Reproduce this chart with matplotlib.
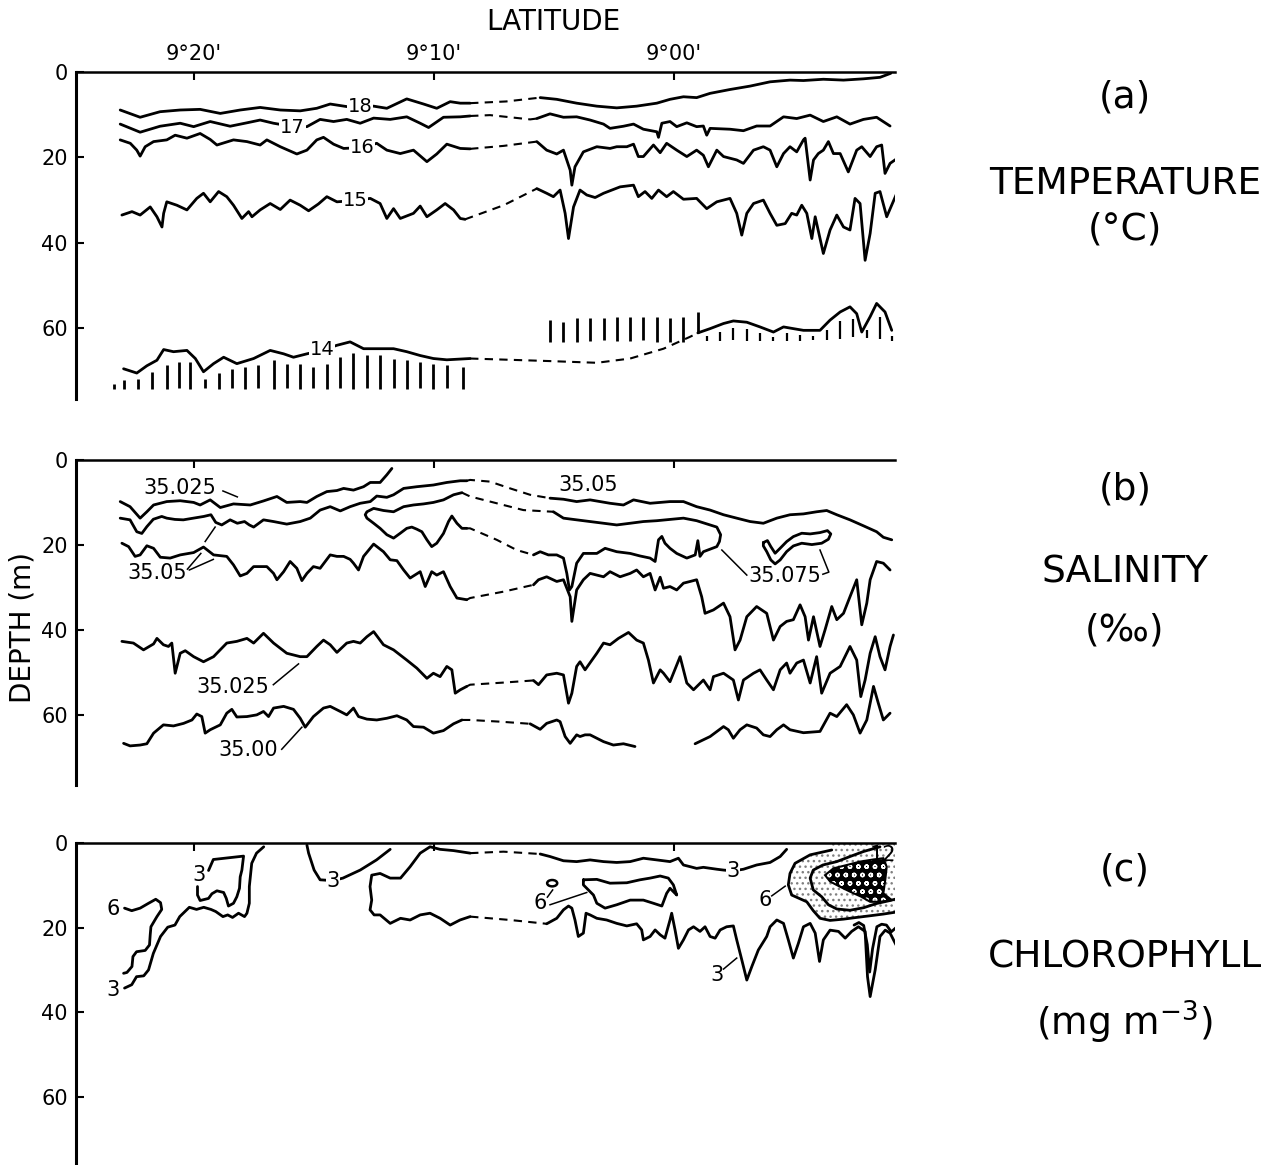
import matplotlib.pyplot as plt
from matplotlib.patches import Polygon, Ellipse

plt.rcParams['font.family'] = ['DejaVu Sans']
plt.rcParams['hatch.linewidth'] = 1.0

# x = latitude, minutes north of 9 deg 00' (negative = south), y = depth in m
LAT_TICKS = [20, 10, 0]
LAT_LABELS = ["9°20'", "9°10'", "9°00'"]
DEPTH_TICKS = [0, 20, 40, 60]

# ---------------- (a) temperature ----------------
t18_lat = [23.08, 22.25, 21.42, 20.58, 19.75, 18.91, 18.08, 17.25, 16.41, 15.58, 14.89, 14.33, 13.64, 13.08, 12.52, 11.97, 11.14, 10.44, 9.89, 9.33, 8.91, 8.5]
t18_dep = [8.9, 10.6, 9.3, 8.9, 8.75, 9.7, 8.9, 8.3, 8.9, 9.1, 8.5, 7.5, 8.1, 8.0, 8.0, 8.5, 6.3, 7.5, 8.5, 6.95, 7.3, 7.3]
t18_gap_lat = [8.5, 7.0, 5.58]
t18_gap_dep = [7.3, 6.9, 6.0]
t18r_lat = [5.58, 4.89, 4.06, 3.22, 2.39, 1.56, 0.72, 0.17, -0.39, -0.94, -1.5, -2.33, -3.17, -4.0, -4.83, -5.39, -6.22, -7.06, -7.89, -8.58, -9.03]
t18r_dep = [6.0, 6.4, 7.3, 8.0, 8.4, 8.0, 7.3, 6.4, 5.8, 6.0, 5.0, 4.1, 3.3, 2.3, 1.9, 2.0, 1.7, 1.9, 1.6, 1.25, 0.3]

t17_lat = [23.08, 22.25, 21.42, 20.58, 20.02, 19.33, 18.5, 17.8, 17.25, 16.69, 15.86, 15.3, 14.75, 14.19, 13.64, 13.08, 12.52, 11.83, 11.14, 10.58, 10.23, 9.61, 8.91, 8.5]
t17_dep = [12.2, 14.1, 12.7, 12.0, 12.8, 11.6, 12.7, 11.9, 11.25, 12.0, 12.8, 12.8, 11.1, 11.6, 11.1, 12.0, 10.8, 11.1, 10.5, 12.0, 13.0, 10.6, 10.5, 10.3]
t17_gap_lat = [8.5, 7.67, 6.83, 6.0, 5.72]
t17_gap_dep = [10.3, 10.1, 10.6, 11.1, 10.9]
t17r_lat = [5.72, 5.17, 4.61, 4.06, 3.5, 2.94, 2.67, 2.11, 1.69, 1.28, 0.72, 0.65, 0.51, 0.17, -0.11, -0.53, -0.94, -1.22, -1.36, -1.5, -2.33, -2.89, -3.44, -4.0, -4.56, -5.11, -5.67, -6.22, -6.78, -7.33, -7.89, -8.44, -9.0]
t17r_dep = [10.9, 9.8, 10.6, 10.5, 11.25, 12.2, 13.2, 12.7, 12.2, 13.4, 14.0, 15.3, 12.0, 11.6, 12.8, 11.9, 12.8, 12.65, 14.8, 13.2, 13.4, 13.75, 12.65, 12.65, 10.5, 10.9, 10.1, 11.6, 10.5, 12.2, 11.1, 10.6, 12.65]

t16_lat = [23.08, 22.66, 22.39, 22.25, 22.04, 21.69, 21.14, 20.79, 20.3, 19.75, 19.33, 19.05, 18.36, 17.8, 17.25, 16.97, 16.41, 15.72, 15.3, 14.89, 14.61, 14.19, 13.77, 13.01, 12.39, 11.97, 11.41, 10.86, 10.3, 9.89, 9.47, 8.91, 8.5]
t16_dep = [15.9, 16.7, 18.3, 19.7, 17.5, 16.3, 15.9, 14.8, 15.5, 14.4, 15.8, 17.1, 15.9, 16.3, 17.1, 15.9, 17.5, 19.2, 18.3, 15.9, 15.3, 16.9, 17.9, 17.7, 16.7, 18.3, 19.1, 18.3, 21.0, 19.2, 16.9, 17.9, 18.0]
t16_gap_lat = [8.5, 7.1, 5.72]
t16_gap_dep = [18.0, 17.3, 16.3]
t16r_lat = [5.72, 5.31, 4.89, 4.61, 4.33, 4.26, 4.13, 3.78, 3.22, 2.67, 2.39, 1.97, 1.69, 1.49, 1.28, 0.86, 0.58, 0.31, -0.11, -0.53, -0.94, -1.22, -1.43, -1.78, -2.06, -2.61, -2.89, -3.31, -3.72, -4.0, -4.28, -4.56, -4.83, -5.11, -5.39, -5.46, -5.67, -5.81, -6.01, -6.22, -6.43, -6.64, -6.92, -7.26, -7.61, -7.82, -8.17, -8.44, -8.65, -8.79, -9.0, -9.28]
t16r_dep = [16.3, 18.3, 19.2, 18.3, 23.0, 26.5, 22.2, 18.7, 17.5, 17.9, 17.5, 17.5, 16.9, 19.8, 19.8, 17.1, 18.9, 16.7, 18.3, 19.8, 18.3, 19.5, 22.2, 18.3, 19.8, 20.6, 21.4, 18.3, 17.5, 18.3, 22.2, 19.1, 17.5, 18.7, 15.9, 15.5, 25.3, 20.6, 19.1, 18.3, 16.3, 19.1, 19.1, 23.4, 18.3, 17.5, 19.8, 17.5, 17.1, 23.75, 21.4, 20.3]

t15_lat = [23.01, 22.59, 22.25, 21.83, 21.55, 21.34, 21.27, 21.14, 20.72, 20.3, 19.89, 19.61, 19.33, 18.98, 18.64, 18.36, 18.01, 17.73, 17.59, 17.25, 16.83, 16.41, 16.0, 15.58, 15.23, 14.82, 14.47, 14.05, 13.29, 12.66, 12.25, 11.97, 11.69, 11.41, 10.86, 10.58, 10.3, 9.89, 9.54, 9.19, 8.91, 8.71]
t15_dep = [33.5, 32.7, 33.5, 31.6, 33.9, 36.3, 33.1, 30.4, 31.2, 32.3, 29.6, 28.4, 30.4, 28.0, 29.2, 31.2, 34.3, 32.7, 33.9, 32.3, 30.8, 32.2, 30.0, 31.2, 32.5, 30.9, 29.2, 30.4, 30.1, 29.6, 30.8, 34.3, 32.0, 34.3, 33.1, 31.4, 33.9, 32.3, 30.8, 32.3, 34.3, 34.5]
t15_gap_lat = [8.71, 7.1, 5.72]
t15_gap_dep = [34.5, 31.2, 27.3]
t15r_lat = [5.72, 5.31, 5.03, 4.75, 4.54, 4.4, 4.19, 3.92, 3.64, 3.29, 2.94, 2.25, 1.69, 1.49, 1.21, 0.93, 0.65, 0.31, 0.03, -0.39, -0.94, -1.36, -1.78, -2.33, -2.61, -2.82, -3.03, -3.31, -3.72, -4.0, -4.28, -4.63, -4.9, -5.11, -5.32, -5.53, -5.74, -5.88, -6.22, -6.5, -6.78, -7.06, -7.33, -7.54, -7.75, -7.96, -8.17, -8.38, -8.58, -8.86, -9.28]
t15r_dep = [27.3, 28.4, 29.2, 27.65, 33.1, 39.0, 31.6, 27.65, 28.8, 29.4, 28.4, 26.9, 26.5, 29.2, 28.0, 29.6, 27.65, 29.2, 28.0, 29.8, 29.6, 32.0, 30.4, 29.6, 33.1, 38.2, 33.1, 30.8, 30.0, 33.1, 35.9, 35.5, 33.1, 33.5, 31.2, 33.1, 39.0, 33.9, 42.5, 37.0, 33.5, 36.3, 37.0, 29.6, 30.8, 44.1, 37.8, 28.4, 28.0, 33.9, 28.4]

t14_lat = [22.94, 22.39, 21.97, 21.55, 21.27, 20.86, 20.3, 19.95, 19.61, 19.19, 18.77, 18.22, 17.52, 16.83, 16.27, 15.86, 15.3, 14.68, 14.05, 13.5, 12.94, 12.25, 11.69, 11.14, 10.58, 10.03, 9.47, 8.5]
t14_dep = [69.5, 70.5, 68.8, 67.5, 65.0, 65.5, 65.2, 67.1, 70.2, 68.3, 66.8, 68.3, 67.1, 65.2, 66.0, 66.8, 66.0, 65.2, 64.0, 63.2, 64.8, 64.8, 64.8, 65.5, 66.4, 67.1, 67.4, 67.1]
t14_gap_lat = [8.5, 5.17, 3.22, 1.83, 0.44, -0.67, -0.99]
t14_gap_dep = [67.1, 67.7, 68.1, 67.1, 64.8, 62.0, 61.1]
t14r_lat = [-0.99, -1.5, -2.06, -2.47, -3.03, -3.58, -4.14, -4.56, -4.97, -5.39, -6.08, -6.5, -6.92, -7.33, -7.61, -7.82, -8.17, -8.44, -8.79, -9.07]
t14r_dep = [61.1, 60.1, 58.9, 58.3, 58.6, 59.7, 60.9, 59.7, 60.1, 60.5, 60.5, 58.1, 56.2, 55.0, 56.6, 60.9, 57.3, 54.2, 56.2, 60.5]

# hatching (water colder than 14 C)
hl_lat = [23.33, 22.94, 22.32, 21.76, 21.14, 20.65, 20.16, 19.54, 18.98, 18.43, 17.87, 17.32, 16.69, 16.14, 15.58, 15.03, 14.47, 13.92, 13.36, 12.8, 12.25, 11.69, 11.14, 10.58, 10.03, 9.47, 8.78]
hl_top = [73.0, 72.2, 71.8, 70.2, 68.7, 67.9, 67.9, 71.8, 70.6, 69.5, 69.1, 68.7, 67.5, 68.3, 68.3, 69.1, 68.3, 66.7, 65.9, 66.3, 66.3, 67.1, 67.5, 67.9, 68.3, 68.7, 69.1]
hl_bot = [74.3, 74.3, 74.2, 74.2, 74.2, 74.0, 74.2, 74.0, 74.2, 74.0, 74.2, 74.0, 74.2, 74.0, 74.2, 74.0, 74.2, 74.0, 74.2, 74.0, 74.2, 74.0, 74.2, 74.0, 74.2, 74.0, 74.2]
ha_lat = [5.17, 4.61, 4.06, 3.5, 2.94, 2.39, 1.83, 1.28, 0.72, 0.17, -0.39, -0.99]
ha_top = [58.1, 58.5, 57.7, 57.7, 57.7, 57.3, 57.3, 57.3, 57.3, 57.7, 57.3, 56.2]
ha_bot = [63.2, 63.2, 63.2, 62.9, 62.8, 62.9, 62.9, 62.8, 63.2, 63.2, 63.2, 61.1]
hb_lat = [-1.36, -1.92, -2.47, -3.03, -3.58, -4.14, -4.69, -5.25, -5.8, -6.36, -6.92, -7.47, -8.03, -8.58, -9.07]
hb_top = [61.8, 60.8, 60.0, 60.2, 61.2, 62.0, 61.2, 61.6, 61.8, 60.4, 58.2, 57.8, 60.4, 57.4, 61.8]
hb_bot = [63.0, 63.0, 62.8, 63.0, 63.0, 63.0, 63.0, 63.0, 62.8, 62.8, 62.6, 62.0, 62.4, 62.6, 63.0]

temp_labels = ['18', '17', '16', '15', '14']
temp_lab_lat = [13.08, 15.9, 13.01, 13.29, 14.68]
temp_lab_dep = [8.0, 12.95, 17.6, 30.1, 65.1]

# ---------------- (b) salinity ----------------
s1_lat = [23.08, 22.67, 22.25, 21.97, 21.69, 21.14, 20.58, 20.02, 19.75, 19.33, 18.91, 18.36, 17.66, 17.11, 16.55, 16.14, 15.58, 15.3, 14.89, 14.47, 14.05, 13.77, 13.36, 12.94, 12.66, 12.25, 11.97, 11.76]
s1_dep = [9.8, 11.0, 13.7, 12.2, 10.6, 9.8, 9.6, 10.0, 10.6, 9.4, 11.2, 10.35, 10.6, 9.65, 8.6, 10.0, 9.8, 10.0, 8.6, 7.45, 7.2, 6.7, 7.1, 6.3, 5.3, 5.3, 3.5, 2.0]

s2_lat = [23.08, 22.67, 22.39, 22.18, 21.97, 21.7, 21.35, 21.14, 20.8, 20.45, 20.03, 19.6, 19.3, 19.1, 18.85, 18.5, 18.2, 17.9, 17.7, 17.52, 17.11, 16.69, 16.14, 15.58, 15.16, 14.75, 14.33, 13.91, 13.5, 13.08, 12.66, 12.39, 11.97, 11.69, 11.27, 10.72, 10.03, 9.47, 8.91, 8.64]
s2_dep = [13.7, 14.1, 16.9, 17.3, 15.7, 13.96, 13.3, 13.7, 14.0, 14.1, 13.7, 13.3, 12.9, 14.7, 15.3, 14.1, 14.9, 14.5, 15.3, 15.8, 14.1, 14.5, 15.1, 14.5, 13.7, 11.8, 11.0, 12.0, 11.0, 10.2, 9.8, 8.5, 8.8, 8.2, 6.7, 6.3, 5.9, 5.3, 4.9, 4.9]
s2_gap_lat = [8.64, 8.5, 7.67, 6.83, 6.0, 5.17]
s2_gap_dep = [4.9, 4.7, 5.1, 6.7, 8.2, 9.0]
s2r_lat = [5.17, 4.61, 4.06, 3.5, 2.67, 2.11, 1.69, 1.0, 0.17, -0.39, -0.94, -1.5, -2.06, -2.61, -3.17, -3.72, -4.28, -4.83, -5.39, -5.94, -6.36, -6.78, -7.33, -7.89, -8.44, -8.72, -9.07]
s2r_dep = [9.0, 9.25, 9.8, 9.4, 10.2, 10.6, 9.4, 10.2, 9.8, 9.8, 11.0, 11.8, 12.9, 13.7, 14.5, 14.9, 13.7, 12.9, 12.7, 12.2, 11.9, 12.9, 14.1, 15.5, 16.9, 18.2, 18.8]

# 35.075 pocket
loopl_lat = [8.84, 9.19, 9.61, 10.03, 10.44, 10.86, 11.27, 11.69, 12.11, 12.52, 12.8, 12.87, 12.8, 12.52, 12.25, 11.97, 11.69, 11.41, 11.14, 10.93, 10.72, 10.51, 10.3, 10.1, 9.89, 9.61, 9.4, 9.26, 9.05, 8.84, 8.64]
loopl_dep = [7.7, 8.2, 9.4, 10.0, 10.35, 10.6, 11.0, 12.2, 11.9, 11.4, 12.2, 12.9, 13.7, 14.9, 16.1, 17.6, 18.4, 17.25, 16.1, 15.8, 16.3, 16.9, 18.8, 20.4, 19.6, 17.3, 14.5, 13.2, 14.9, 16.1, 16.1]
loop_gap1_lat = [8.84, 8.5, 7.39, 6.28, 5.03]
loop_gap1_dep = [7.7, 8.6, 10.2, 11.8, 12.2]
loop_gap2_lat = [8.64, 8.5, 7.39, 6.56, 5.86]
loop_gap2_dep = [16.1, 16.1, 18.8, 21.2, 22.35]
loopr_lat = [5.03, 4.61, 4.06, 3.5, 2.94, 2.39, 1.83, 1.28, 0.72, 0.17, -0.39, -0.94, -1.5, -1.78, -1.94, -1.89, -1.78, -1.5, -1.22, -1.08, -0.99, -0.88, -0.53, -0.11, 0.17, 0.38, 0.51, 0.65, 0.79, 1.0, 1.42, 1.83, 2.39, 2.875, 3.22, 3.78, 4.06, 4.26, 4.36, 4.47, 4.61, 4.89, 5.24, 5.58, 5.86]
loopr_dep = [12.2, 13.7, 14.1, 14.5, 14.9, 15.3, 14.9, 14.5, 14.3, 14.0, 13.7, 14.3, 15.3, 15.8, 17.6, 19.2, 20.4, 21.0, 21.6, 22.7, 19.0, 22.35, 23.1, 22.0, 20.8, 19.6, 18.0, 18.8, 23.9, 23.1, 22.6, 22.0, 21.6, 20.8, 22.0, 22.0, 24.3, 29.8, 30.6, 26.7, 23.1, 22.35, 22.35, 21.6, 22.35]
worm_lat = [-3.72, -3.89, -4.03, -4.21, -4.42, -4.69, -4.97, -5.32, -5.67, -6.08, -6.39, -6.53, -6.43, -6.15, -5.74, -5.32, -4.97, -4.69, -4.42, -4.21, -4.03, -3.86, -3.72, -3.72]
worm_dep = [19.45, 18.98, 20.39, 21.96, 20.78, 19.22, 18.04, 17.25, 17.41, 17.1, 16.63, 17.41, 18.67, 19.6, 19.92, 19.6, 20.24, 21.57, 23.53, 24.47, 23.53, 21.57, 20.24, 19.45]

s3_lat = [23.01, 22.73, 22.46, 22.25, 21.97, 21.69, 21.41, 21.0, 20.58, 20.02, 19.61, 19.19, 18.64, 18.36, 18.08, 17.8, 17.52, 16.97, 16.69, 16.55, 16.27, 16.0, 15.72, 15.51, 15.3, 15.03, 14.75, 14.33, 14.05, 13.77, 13.5, 13.36, 13.15, 12.94, 12.52, 12.11, 11.83, 11.55, 11.27, 11.0, 10.58, 10.37, 10.1, 9.89, 9.61, 9.33, 9.05, 8.64]
s3_dep = [19.6, 20.4, 22.7, 22.35, 20.2, 20.8, 22.9, 23.1, 22.35, 21.8, 20.5, 22.35, 22.7, 24.7, 27.3, 26.7, 25.1, 25.1, 26.7, 28.2, 26.3, 23.9, 25.5, 28.4, 26.7, 25.1, 25.5, 22.35, 22.7, 22.7, 23.4, 24.3, 25.9, 22.7, 19.8, 21.6, 23.5, 23.7, 25.9, 27.8, 26.3, 29.8, 26.3, 27.1, 26.3, 29.8, 32.5, 32.9]
s3_gap_lat = [8.64, 8.5, 7.11, 5.86]
s3_gap_dep = [32.9, 32.5, 31.0, 29.4]
s3r_lat = [5.86, 5.65, 5.31, 4.89, 4.61, 4.33, 4.26, 4.06, 3.78, 3.5, 3.22, 2.94, 2.67, 2.25, 1.83, 1.56, 1.28, 1.0, 0.79, 0.58, 0.44, 0.17, -0.11, -0.39, -0.67, -0.94, -1.15, -1.29, -1.64, -2.06, -2.33, -2.54, -2.75, -3.03, -3.44, -3.86, -4.14, -4.42, -4.69, -4.97, -5.25, -5.46, -5.6, -5.81, -6.08, -6.29, -6.57, -6.78, -7.06, -7.33, -7.61, -7.82, -8.03, -8.17, -8.44, -8.72, -9.0]
s3r_dep = [29.4, 28.2, 27.5, 28.6, 28.2, 32.2, 38.0, 30.6, 28.2, 26.7, 27.1, 27.5, 26.3, 27.5, 26.7, 25.9, 27.5, 26.7, 30.6, 27.6, 30.2, 29.8, 30.6, 29.0, 28.6, 28.2, 32.2, 36.1, 35.3, 33.7, 36.9, 44.7, 42.4, 36.9, 34.5, 36.1, 42.4, 39.2, 38.0, 37.6, 34.1, 36.9, 42.4, 36.9, 43.9, 40.0, 34.5, 37.6, 36.1, 32.2, 28.2, 38.8, 33.7, 28.2, 23.9, 24.3, 25.9]

s4_lat = [23.01, 22.53, 22.11, 21.69, 21.55, 21.28, 21.07, 20.93, 20.79, 20.58, 20.37, 20.02, 19.61, 19.19, 18.64, 18.22, 17.8, 17.52, 17.11, 16.69, 16.14, 15.58, 15.3, 14.89, 14.61, 14.33, 14.05, 13.64, 13.36, 13.08, 12.8, 12.52, 12.11, 11.69, 11.14, 10.72, 10.3, 10.03, 9.75, 9.47, 9.26, 9.12, 8.91, 8.64]
s4_dep = [42.7, 43.1, 44.7, 43.3, 42.0, 43.5, 43.9, 43.1, 50.2, 45.5, 44.9, 46.3, 47.5, 46.3, 43.1, 42.7, 42.0, 43.1, 40.8, 43.1, 45.5, 46.3, 46.3, 43.9, 42.4, 43.5, 45.3, 43.1, 42.7, 43.1, 41.6, 40.4, 43.5, 44.7, 47.1, 49.0, 51.4, 50.2, 51.0, 48.6, 49.4, 54.9, 54.1, 53.3]
s4_gap_lat = [8.64, 8.5, 7.11, 5.86]
s4_gap_dep = [53.3, 52.9, 52.4, 51.9]
s4r_lat = [5.86, 5.65, 5.31, 4.89, 4.61, 4.4, 4.26, 4.06, 3.92, 3.71, 3.22, 2.94, 2.67, 2.32, 1.9, 1.56, 1.28, 1.07, 0.86, 0.58, 0.44, 0.17, -0.25, -0.53, -0.81, -1.22, -1.5, -1.64, -2.06, -2.47, -2.68, -2.89, -3.31, -3.58, -3.86, -4.14, -4.42, -4.69, -4.83, -5.11, -5.39, -5.67, -5.94, -6.15, -6.5, -6.92, -7.33, -7.61, -7.78, -7.96, -8.17, -8.38, -8.58, -8.79, -9.0, -9.14]
s4r_dep = [51.9, 52.9, 50.6, 50.2, 50.6, 57.25, 54.9, 48.6, 47.5, 49.4, 45.5, 43.1, 43.5, 42.0, 40.6, 42.4, 43.1, 47.1, 52.5, 49.4, 50.2, 52.2, 46.3, 52.5, 54.1, 51.8, 54.1, 51.0, 50.2, 51.8, 56.5, 51.8, 50.2, 49.4, 51.8, 54.1, 49.4, 47.8, 50.2, 47.8, 47.1, 52.5, 46.3, 54.9, 50.2, 48.6, 43.9, 47.1, 55.7, 51.8, 45.5, 41.6, 46.3, 49.4, 43.9, 41.2]

s5_lat = [22.94, 22.67, 22.25, 21.97, 21.69, 21.28, 20.86, 20.44, 20.09, 19.89, 19.68, 19.54, 19.33, 18.91, 18.64, 18.43, 18.22, 17.8, 17.39, 17.11, 16.9, 16.69, 16.27, 15.86, 15.58, 15.37, 15.03, 14.61, 14.33, 13.91, 13.64, 13.36, 13.15, 12.8, 12.39, 11.97, 11.55, 11.14, 10.86, 10.44, 10.03, 9.61, 9.19, 8.84]
s5_dep = [66.7, 67.3, 67.1, 66.8, 64.3, 62.35, 62.6, 62.0, 61.2, 59.8, 60.4, 64.3, 63.5, 62.35, 59.6, 58.7, 60.5, 60.4, 60.0, 59.2, 60.4, 58.4, 58.0, 58.7, 60.8, 62.9, 60.4, 58.4, 58.0, 59.2, 60.0, 58.4, 60.4, 61.0, 61.2, 60.8, 60.2, 61.2, 62.75, 62.9, 64.3, 63.7, 62.1, 61.2]
s5_gap_lat = [8.84, 8.5, 7.25, 6.0]
s5_gap_dep = [61.2, 61.2, 61.6, 62.1]
s5r1_lat = [6.0, 5.58, 5.31, 4.89, 4.75, 4.54, 4.33, 4.06, 3.92, 3.71, 3.5, 3.22, 2.94, 2.53, 2.11, 1.63]
s5r1_dep = [62.1, 63.4, 62.0, 61.2, 61.6, 65.1, 66.7, 64.7, 65.1, 64.7, 64.7, 65.5, 66.3, 67.1, 66.8, 67.45]
s5r2_lat = [-0.875, -1.5, -2.06, -2.26, -2.47, -2.75, -3.03, -3.44, -3.72, -4.0, -4.28, -4.56, -4.83, -5.39, -6.08, -6.5, -6.78, -7.19, -7.47, -7.75, -8.03, -8.31, -8.51, -8.72, -9.0]
s5r2_dep = [66.8, 65.1, 62.75, 63.5, 65.5, 63.5, 62.35, 63.1, 64.7, 65.1, 63.5, 62.35, 63.5, 64.2, 63.9, 59.6, 60.4, 57.6, 60.0, 64.3, 61.2, 53.3, 57.25, 61.2, 59.6]

# ---------------- (c) chlorophyll ----------------
c3l_lat = [22.9, 22.6, 22.4, 22.1, 21.9, 21.7, 21.4, 21.1, 20.8, 20.6, 20.2, 19.9, 19.6, 19.3, 19.1, 18.8, 18.6, 18.4, 18.15, 17.9, 17.8, 17.7, 17.7, 17.6, 17.4, 17.1]
c3l_dep = [34.3, 33.5, 31.6, 31.4, 30.0, 26.1, 22.1, 19.9, 19.4, 17.4, 15.2, 15.7, 15.2, 15.7, 16.2, 17.4, 17.0, 17.6, 16.6, 17.4, 16.6, 14.25, 10.3, 4.8, 2.4, 0.9]
c6l_lat = [22.9, 22.6, 22.25, 21.9, 21.6, 21.4, 21.35, 21.55, 21.8, 21.83, 21.86, 22.04, 22.4, 22.55, 22.59, 22.8, 22.94]
c6l_dep = [15.4, 16.0, 15.4, 14.25, 13.3, 14.1, 15.7, 17.4, 19.8, 21.7, 24.1, 25.4, 25.7, 26.85, 29.2, 30.6, 30.8]
cbox_lat = [19.4, 19.2, 17.94, 18.01, 18.08, 18.11, 18.22, 18.36, 18.57, 18.66, 18.77, 19.05, 19.26, 19.4, 19.75, 19.86, 19.86]
cbox_dep = [6.5, 3.9, 3.1, 6.4, 8.0, 10.7, 12.7, 14.25, 14.9, 13.1, 11.7, 11.3, 12.0, 13.1, 13.6, 12.3, 10.3]
c3m_lat = [15.3, 15.23, 15.0, 14.75, 14.22, 13.8, 13.08, 12.4, 11.83]
c3m_dep = [0.5, 2.4, 6.4, 8.7, 8.9, 8.3, 6.4, 4.0, 1.5]
creg_lat = [8.5, 9.19, 9.75, 10.17, 10.58, 11.0, 11.4, 11.83, 12.25, 12.6, 12.67, 12.6, 12.67, 12.5, 12.25, 11.83, 11.4, 11.0, 10.58, 10.17, 9.75, 9.33, 8.92, 8.5]
creg_dep = [2.4, 1.8, 1.5, 0.9, 2.4, 5.6, 8.3, 8.3, 7.2, 7.6, 10.3, 13.5, 15.8, 17.0, 17.0, 19.0, 17.8, 18.2, 17.0, 16.6, 17.8, 19.4, 18.2, 17.4]
cgap1_lat = [8.5, 7.11, 5.58]
cgap1_dep = [2.4, 2.05, 2.6]
cgap2_lat = [8.5, 6.83, 5.31]
cgap2_dep = [17.4, 18.2, 19.1]
ctop_lat = [5.58, 5.17, 4.61, 4.06, 3.5, 2.94, 2.39, 1.83, 1.28, 0.72, 0.17, -0.18, -0.39, -0.67, -0.94, -1.22, -1.78, -2.06, -2.46, -2.89, -3.44, -4.0, -4.42, -4.69]
ctop_dep = [2.6, 3.2, 4.2, 4.4, 4.0, 4.4, 4.6, 4.4, 3.6, 4.0, 4.4, 3.6, 5.2, 5.6, 6.0, 5.75, 6.2, 6.4, 6.6, 6.2, 5.2, 4.6, 3.2, 1.5]
c6m_lat = [3.78, 3.22, 2.67, 1.97, 1.42, 1.0, 0.58, 0.24, 0.03, -0.11, 0.03, 0.17, 0.31, 0.51, 0.86, 1.28, 1.83, 2.39, 2.875, 3.22, 3.36, 3.57, 3.78, 3.78]
c6m_dep = [8.7, 8.6, 9.5, 9.4, 8.7, 8.3, 7.8, 8.3, 9.9, 12.3, 11.5, 10.7, 11.9, 14.9, 14.25, 13.5, 13.5, 14.6, 15.4, 14.25, 12.3, 11.1, 9.9, 8.7]
cbot_lat = [5.31, 4.89, 4.61, 4.4, 4.26, 4.13, 3.99, 3.78, 3.67, 3.5, 3.22, 2.81, 2.39, 1.97, 1.56, 1.35, 1.28, 1.0, 0.79, 0.58, 0.38, 0.17, 0.1, -0.04, -0.18, -0.39, -0.6, -0.81, -1.08, -1.29, -1.5, -1.71, -1.92, -2.19, -2.47, -2.61, -2.82, -3.03, -3.24, -3.51, -3.86,
            -4.0, -4.28, -4.56, -4.76, -4.97, -5.18, -5.39, -5.67, -5.88, -6.06, -6.22, -6.5, -6.85, -7.13, -7.4, -7.68, -7.96, -8.06, -8.17, -8.38, -8.58, -8.8, -9.0, -9.25, -9.4]
cbot_dep = [19.1, 17.8, 15.8, 14.9, 15.4, 18.2, 22.1, 21.3, 16.6, 17.0, 17.8, 18.2, 19.0, 19.6, 19.1, 20.55, 22.9, 22.1, 20.55, 21.7, 22.5, 18.2, 16.6, 20.55, 24.9, 22.9, 20.55, 19.8, 20.9, 19.8, 22.1, 22.5, 20.55, 19.8, 19.6, 22.9, 27.6, 32.4, 29.2, 25.3, 22.1,
            19.8, 18.2, 19.0, 22.9, 27.2, 23.7, 19.8, 19.0, 21.3, 28.0, 22.9, 20.6, 20.9, 22.5, 20.9, 19.8, 20.9, 31.6, 36.3, 30.0, 22.1, 20.6, 21.3, 24.1, 22.1]
cin_lat = [-7.5, -7.7, -7.9, -8.05, -8.15, -8.27, -8.45, -8.65, -8.85, -9.05, -9.25]
cin_dep = [19.4, 18.8, 19.5, 24.0, 30.5, 25.0, 19.8, 19.2, 19.4, 21.0, 20.0]
c6r_lat = [-6.57, -5.67, -5.04, -4.83, -4.76, -4.9, -5.53, -5.8, -6.08, -6.5, -7.06, -7.6, -8.17, -8.72, -9.4]
c6r_dep = [1.65, 2.8, 4.8, 7.2, 9.9, 12.3, 13.9, 16.0, 17.8, 18.3, 18.0, 17.6, 17.2, 16.8, 16.2]
c12_lat = [-8.58, -7.9, -7.33, -6.78, -6.2, -5.8, -5.67, -5.8, -6.15, -6.43, -6.78, -7.33, -7.9, -8.44, -9.0, -9.4]
c12_dep = [0.9, 2.0, 3.2, 4.4, 5.2, 6.4, 8.3, 11.1, 12.7, 14.6, 15.6, 15.9, 15.3, 14.3, 13.6, 13.0]
cx_lat = [-6.29, -6.64, -7.2, -7.75, -8.3, -8.72, -8.86, -8.8, -8.72, -9.07, -8.58, -8.17, -7.8, -7.33, -6.9, -6.5]
cx_dep = [7.6, 6.0, 5.2, 4.4, 3.9, 3.6, 5.6, 8.7, 11.9, 13.5, 13.9, 13.9, 12.7, 11.5, 10.3, 9.1]


def solid(ax, lat, dep, lw=2.0):
    ax.plot(lat, dep, color='k', lw=lw, solid_joinstyle='round', solid_capstyle='round')


def dashed(ax, lat, dep):
    ax.plot(lat, dep, color='k', lw=1.5, ls=(0, (4, 3)))


def leader(ax, lat, dep):
    ax.plot(lat, dep, color='k', lw=1.1)


def label(ax, lat, dep, s, white=False, size=15):
    bb = dict(fc='white', ec='none', pad=0.5) if white else None
    ax.text(lat, dep, s, ha='center', va='center', fontsize=size, bbox=bb, zorder=5)


def setup(ax, top_labels=False):
    ax.set_xlim(24.92, -9.21)
    ax.set_ylim(76.5, 0)
    ax.patch.set_alpha(0)
    for s in ['right', 'bottom']:
        ax.spines[s].set_visible(False)
    ax.spines['left'].set_linewidth(2.2)
    ax.spines['top'].set_linewidth(1.8)
    ax.xaxis.tick_top()
    ax.set_xticks(LAT_TICKS)
    ax.set_xticklabels(LAT_LABELS if top_labels else [])
    ax.set_yticks(DEPTH_TICKS)
    ax.set_yticklabels([str(d) for d in DEPTH_TICKS])
    ax.tick_params(direction='in', length=6, width=1.5, labelsize=15, pad=6)


fig = plt.figure(figsize=(12.87, 11.65), dpi=100)
ax_a = fig.add_axes([0.0591, 0.6578, 0.6364, 0.2804])
ax_b = fig.add_axes([0.0591, 0.3262, 0.6364, 0.2790])
ax_c = fig.add_axes([0.0591, -0.0014, 0.6364, 0.2778])

# ---- (a)
ax = ax_a
for la, de in [(t18_lat, t18_dep), (t18r_lat, t18r_dep), (t17_lat, t17_dep), (t17r_lat, t17r_dep),
               (t16_lat, t16_dep), (t16r_lat, t16r_dep), (t15_lat, t15_dep), (t15r_lat, t15r_dep),
               (t14_lat, t14_dep), (t14r_lat, t14r_dep)]:
    solid(ax, la, de)
for la, de in [(t18_gap_lat, t18_gap_dep), (t17_gap_lat, t17_gap_dep), (t16_gap_lat, t16_gap_dep),
               (t15_gap_lat, t15_gap_dep), (t14_gap_lat, t14_gap_dep)]:
    dashed(ax, la, de)
ax.vlines(hl_lat, hl_top, hl_bot, color='k', lw=2.0)
ax.vlines(ha_lat, ha_top, ha_bot, color='k', lw=2.0)
ax.vlines(hb_lat, hb_top, hb_bot, color='k', lw=1.6)
for s, la, de in zip(temp_labels, temp_lab_lat, temp_lab_dep):
    label(ax, la, de, s, white=True, size=14)
setup(ax, top_labels=True)

# ---- (b)
ax = ax_b
for la, de in [(s1_lat, s1_dep), (s2_lat, s2_dep), (s2r_lat, s2r_dep), (loopl_lat, loopl_dep),
               (loopr_lat, loopr_dep), (worm_lat, worm_dep), (s3_lat, s3_dep), (s3r_lat, s3r_dep),
               (s4_lat, s4_dep), (s4r_lat, s4r_dep), (s5_lat, s5_dep), (s5r1_lat, s5r1_dep),
               (s5r2_lat, s5r2_dep)]:
    solid(ax, la, de)
for la, de in [(s2_gap_lat, s2_gap_dep), (loop_gap1_lat, loop_gap1_dep), (loop_gap2_lat, loop_gap2_dep),
               (s3_gap_lat, s3_gap_dep), (s4_gap_lat, s4_gap_dep), (s5_gap_lat, s5_gap_dep)]:
    dashed(ax, la, de)
label(ax, 20.58, 6.6, '35.025')
leader(ax, [18.8, 18.2], [7.3, 8.7])
label(ax, 21.55, 26.6, '35.05')
leader(ax, [20.28, 19.72], [25.7, 22.0])
leader(ax, [20.2, 19.2], [25.9, 23.4])
leader(ax, [19.54, 19.125], [19.2, 15.8])
label(ax, 18.375, 53.4, '35.025')
leader(ax, [16.7, 15.65], [52.9, 48.0])
label(ax, 17.75, 68.2, '35.00')
leader(ax, [16.35, 15.51], [68.1, 62.9])
label(ax, 3.58, 5.9, '35.05')
label(ax, -4.625, 27.3, '35.075')
leader(ax, [-3.03, -1.99], [27.1, 21.2])
leader(ax, [-6.2, -6.45, -6.08], [26.9, 26.4, 21.2])
setup(ax)

# ---- (c)
ax = ax_c
stip = Polygon(list(zip(c6r_lat + [-9.4, -6.57], c6r_dep + [0.0, 0.0])), closed=True,
               facecolor='none', edgecolor='0.5', hatch='...', lw=0, zorder=1)
ax.add_patch(stip)
cross = Polygon(list(zip(cx_lat, cx_dep)), closed=True, facecolor='k', edgecolor='white',
                hatch='oo', lw=0, zorder=2)
ax.add_patch(cross)
ax.add_patch(Polygon(list(zip(cx_lat, cx_dep)), closed=True, fill=False, edgecolor='k', lw=1.5, zorder=2))
for la, de in [(c3l_lat, c3l_dep), (c6l_lat, c6l_dep), (cbox_lat, cbox_dep), (c3m_lat, c3m_dep),
               (creg_lat, creg_dep), (ctop_lat, ctop_dep), (c6m_lat, c6m_dep), (cbot_lat, cbot_dep),
               (cin_lat, cin_dep), (c6r_lat, c6r_dep), (c12_lat, c12_dep)]:
    solid(ax, la, de)
for la, de in [(cgap1_lat, cgap1_dep), (cgap2_lat, cgap2_dep)]:
    dashed(ax, la, de)
ax.add_patch(Ellipse((5.08, 9.5), width=0.42, height=1.5, fill=False, lw=1.8))
label(ax, 23.39, 15.7, '6')
label(ax, 23.36, 34.75, '3')
label(ax, 19.78, 7.6, '3')
label(ax, 14.22, 8.9, '3', white=True)
label(ax, 5.58, 14.25, '6')
leader(ax, [5.28, 5.06], [12.8, 11.1])
leader(ax, [5.17, 3.64], [14.6, 11.7])
label(ax, -2.46, 6.6, '3', white=True)
label(ax, -1.78, 31.2, '3')
leader(ax, [-2.06, -2.61], [29.8, 27.2])
label(ax, -3.79, 13.5, '6')
leader(ax, [-4.07, -4.63], [12.5, 10.2])
label(ax, -8.7, 2.8, '12')
setup(ax)

# ---- figure texts
fig.text(0.4297, 0.9811, 'LATITUDE', ha='center', va='center', fontsize=20)
fig.text(0.0171, 0.4610, 'DEPTH (m)', ha='center', va='center', fontsize=20, rotation=90)
side = [('(a)', 0.9167), ('TEMPERATURE', 0.8429), ('(°C)', 0.8034),
        ('(b)', 0.5794), ('SALINITY', 0.5082), ('(‰)', 0.4584),
        ('(c)', 0.2532), ('CHLOROPHYLL', 0.1785), ('(mg m$^{-3}$)', 0.1227)]
for s, y in side:
    fig.text(0.874, y, s, ha='center', va='center', fontsize=27)

fig.savefig('out.png', dpi=100)
